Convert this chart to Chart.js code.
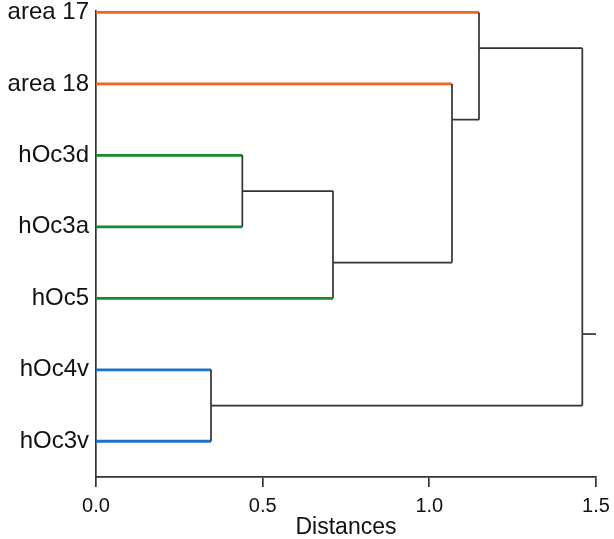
<!DOCTYPE html>
<html>
<head>
<meta charset="utf-8">
<script src="https://cdn.jsdelivr.net/npm/chart.js@4"></script>
<style>
  body { margin: 0; background: #fff; }
  #wrap { width: 614px; height: 539px; }
</style>
</head>
<body>
<div id="wrap"><canvas id="mycanvas"></canvas></div>
<script>
// leaves, top to bottom
var leaves = ['area 17', 'area 18', 'hOc3d', 'hOc3a', 'hOc5', 'hOc4v', 'hOc3v'];
var leafGroup = ['orange', 'orange', 'green', 'green', 'green', 'blue', 'blue'];

// merges: children are leaf index (number) or 'n' + merge index
var mergeA = [2, 'n0', 5, 1, 0, 'n4'];
var mergeB = [3, 4, 6, 'n1', 'n3', 'n2'];
var mergeDist = [0.439, 0.711, 0.345, 1.068, 1.149, 1.459];
var mergeRow = [2.5, 3.5, 5.5, 1.5, 0.5, 4.5];
var rootEnd = 1.5;

var xTicks = [0, 0.5, 1.0, 1.5];

var groupColors = { orange: '#f4641f', green: '#178c2b', blue: '#1f70c8' };
var linkColor = '#333333';

function rowOf(c) {
  return typeof c === 'number' ? c : mergeRow[+c.slice(1)];
}
function distOf(c) {
  return typeof c === 'number' ? 0 : mergeDist[+c.slice(1)];
}

function seg(x0, y0, x1, y1, color, w) {
  return {
    data: [{x: x0, y: y0}, {x: x1, y: y1}],
    showLine: true,
    borderColor: color,
    borderWidth: w,
    pointRadius: 0,
    fill: false
  };
}

var blackSegs = [];
var colorSegs = [];
for (var i = 0; i < mergeDist.length; i++) {
  var kids = [mergeA[i], mergeB[i]];
  kids.forEach(function(c) {
    if (typeof c === 'number') {
      colorSegs.push(seg(0, c, mergeDist[i], c, groupColors[leafGroup[c]], 2.8));
    } else {
      blackSegs.push(seg(distOf(c), rowOf(c), mergeDist[i], rowOf(c), linkColor, 1.7));
    }
  });
  blackSegs.push(seg(mergeDist[i], rowOf(mergeA[i]), mergeDist[i], rowOf(mergeB[i]), linkColor, 1.7));
}
var last = mergeDist.length - 1;
blackSegs.push(seg(mergeDist[last], mergeRow[last], rootEnd, mergeRow[last], linkColor, 1.7));

var ctx = document.getElementById('mycanvas');
new Chart(ctx, {
  type: 'scatter',
  data: { datasets: blackSegs.concat(colorSegs) },
  options: {
    responsive: true,
    maintainAspectRatio: false,
    animation: false,
    layout: { padding: { top: 11, right: 18, left: 0, bottom: 0 } },
    plugins: { legend: { display: false }, tooltip: { enabled: false } },
    scales: {
      x: {
        type: 'linear',
        min: 0,
        max: 1.5,
        afterBuildTicks: function(s) { s.ticks = xTicks.map(function(v) { return {value: v}; }); },
        afterFit: function(s) { s.height = 62; s.paddingLeft = 0; s.paddingRight = 0; },
        ticks: {
          color: '#111',
          font: { family: 'Liberation Sans, Arial, sans-serif', size: 20 },
          padding: 7,
          maxRotation: 0,
          callback: function(v) { return Number(v).toFixed(1); }
        },
        grid: { drawOnChartArea: false, drawTicks: true, tickLength: 10, color: linkColor, lineWidth: 1.7 },
        border: { color: linkColor, width: 1.7 },
        title: {
          display: true,
          text: 'Distances',
          color: '#111',
          font: { family: 'Liberation Sans, Arial, sans-serif', size: 23, lineHeight: 1.0 },
          padding: { top: 0, bottom: 0 }
        }
      },
      y: {
        type: 'linear',
        reverse: true,
        min: -0.02,
        max: 6.5,
        afterBuildTicks: function(s) { s.ticks = leaves.map(function(_, i) { return {value: i}; }); },
        afterFit: function(s) { s.width = 96; s.paddingTop = 0; s.paddingBottom = 0; },
        ticks: {
          autoSkip: false,
          color: '#111',
          font: { family: 'Liberation Sans, Arial, sans-serif', size: 24 },
          padding: 7,
          callback: function(v) { return leaves[v]; }
        },
        grid: { display: false, drawTicks: false, tickLength: 0 },
        border: { display: true, color: linkColor, width: 1.7 }
      }
    }
  }
});
</script>
</body>
</html>
